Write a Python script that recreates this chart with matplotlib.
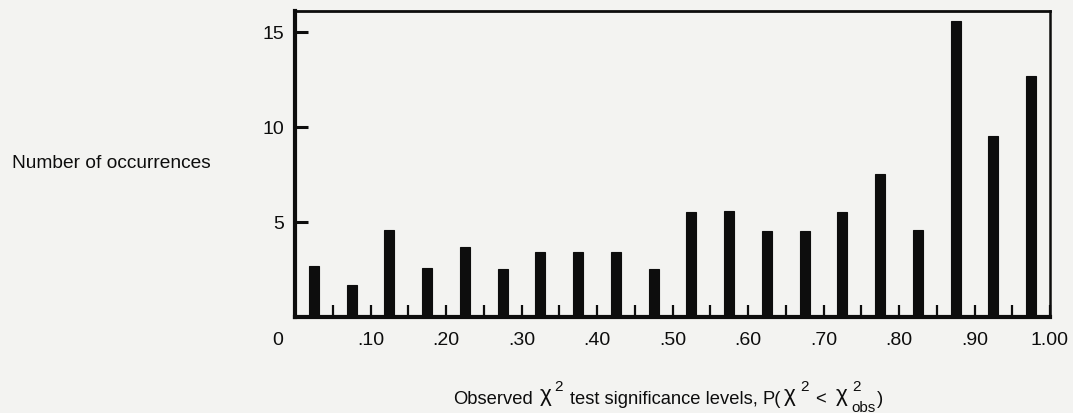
import matplotlib
matplotlib.use("Agg")
import matplotlib.pyplot as plt
import matplotlib.transforms as mtransforms

# Data
bin_centers = [0.025, 0.075, 0.125, 0.175, 0.225, 0.275, 0.325, 0.375, 0.425, 0.475,
               0.525, 0.575, 0.625, 0.675, 0.725, 0.775, 0.825, 0.875, 0.925, 0.975]
occurrences = [2.7, 1.7, 4.6, 2.6, 3.7, 2.5, 3.4, 3.4, 3.4, 2.5,
               5.5, 5.6, 4.5, 4.5, 5.5, 7.5, 4.6, 15.6, 9.5, 12.7]
x_tick_values = [0.0, 0.1, 0.2, 0.3, 0.4, 0.5, 0.6, 0.7, 0.8, 0.9, 1.0]
x_tick_labels = ["0", ".10", ".20", ".30", ".40", ".50", ".60", ".70", ".80", ".90", "1.00"]
x_minor_ticks = [0.05, 0.15, 0.25, 0.35, 0.45, 0.55, 0.65, 0.75, 0.85, 0.95]
y_tick_values = [5, 10, 15]
y_tick_labels = ["5", "10", "15"]

plt.rcParams['font.family'] = ['Liberation Sans', 'DejaVu Sans']

bg = '#f3f3f1'
ink = '#0d0d0d'
W, H = 1073, 414

fig = plt.figure(figsize=(W / 100, H / 100), dpi=100, facecolor=bg)
ax = fig.add_axes([295 / W, 1 - 318 / H, (1050 - 295) / W, (318 - 12) / H])
ax.set_facecolor(bg)

ax.bar(bin_centers, occurrences, width=0.0135, color=ink, edgecolor=ink, linewidth=0.8)

ax.set_xlim(0, 1.0)
ax.set_ylim(0, 16.1)

ax.set_xticks(x_tick_values)
ax.set_xticklabels(x_tick_labels)
ax.set_xticks(x_minor_ticks, minor=True)
ax.tick_params(axis='x', which='both', direction='in', length=8.5, width=1.6,
               color=ink, labelsize=14, pad=10, labelcolor=ink)
ax.set_yticks(y_tick_values)
ax.set_yticklabels(y_tick_labels)
ax.tick_params(axis='y', which='major', direction='in', length=9.5, width=2.2,
               color=ink, labelsize=14, pad=8, labelcolor=ink)

# shift the "0" label to the left like in the reference
offset = mtransforms.ScaledTranslation(-17 / 100, 0, fig.dpi_scale_trans)
lbl0 = ax.get_xticklabels()[0]
lbl0.set_transform(lbl0.get_transform() + offset)

for side, lw in [('left', 3.0), ('bottom', 3.0), ('top', 2.0), ('right', 1.8)]:
    ax.spines[side].set_linewidth(lw)
    ax.spines[side].set_color(ink)

fig.text(12 / W, 1 - 164 / H, "Number of occurrences", fontsize=13.8, color=ink,
         ha='left', va='center')

# x-axis label built from pieces: (text, gap before [px], raise [px], size [pt])
fs = 13.2
sup = 11.0
pieces = [
    ("Observed", 0, 0, fs),
    ("\u03c7", 7, 3, fs + 3),
    ("2", 3, 13, sup),
    ("test significance levels,", 7, 0, fs),
    ("P(", 5, 0, fs),
    ("\u03c7", 3, 3, fs + 3),
    ("2", 4, 13, sup),
    ("<", 7, 0, fs),
    ("\u03c7", 10, 3, fs + 3),
    ("2", 4, 13, sup),
    ("obs", -9, -8, sup),
    (")", 1, 0, fs),
]
renderer = fig.canvas.get_renderer()
x_px = 453.0
baseline_px = 404.0  # from top
for txt, gap, dy, size in pieces:
    x_px += gap
    t = fig.text(x_px / W, 1 - (baseline_px - dy) / H, txt, fontsize=size, color=ink,
                 ha='left', va='baseline')
    bb = t.get_window_extent(renderer=renderer)
    x_px = bb.x1

fig.savefig("out.png", dpi=100, facecolor=bg)
